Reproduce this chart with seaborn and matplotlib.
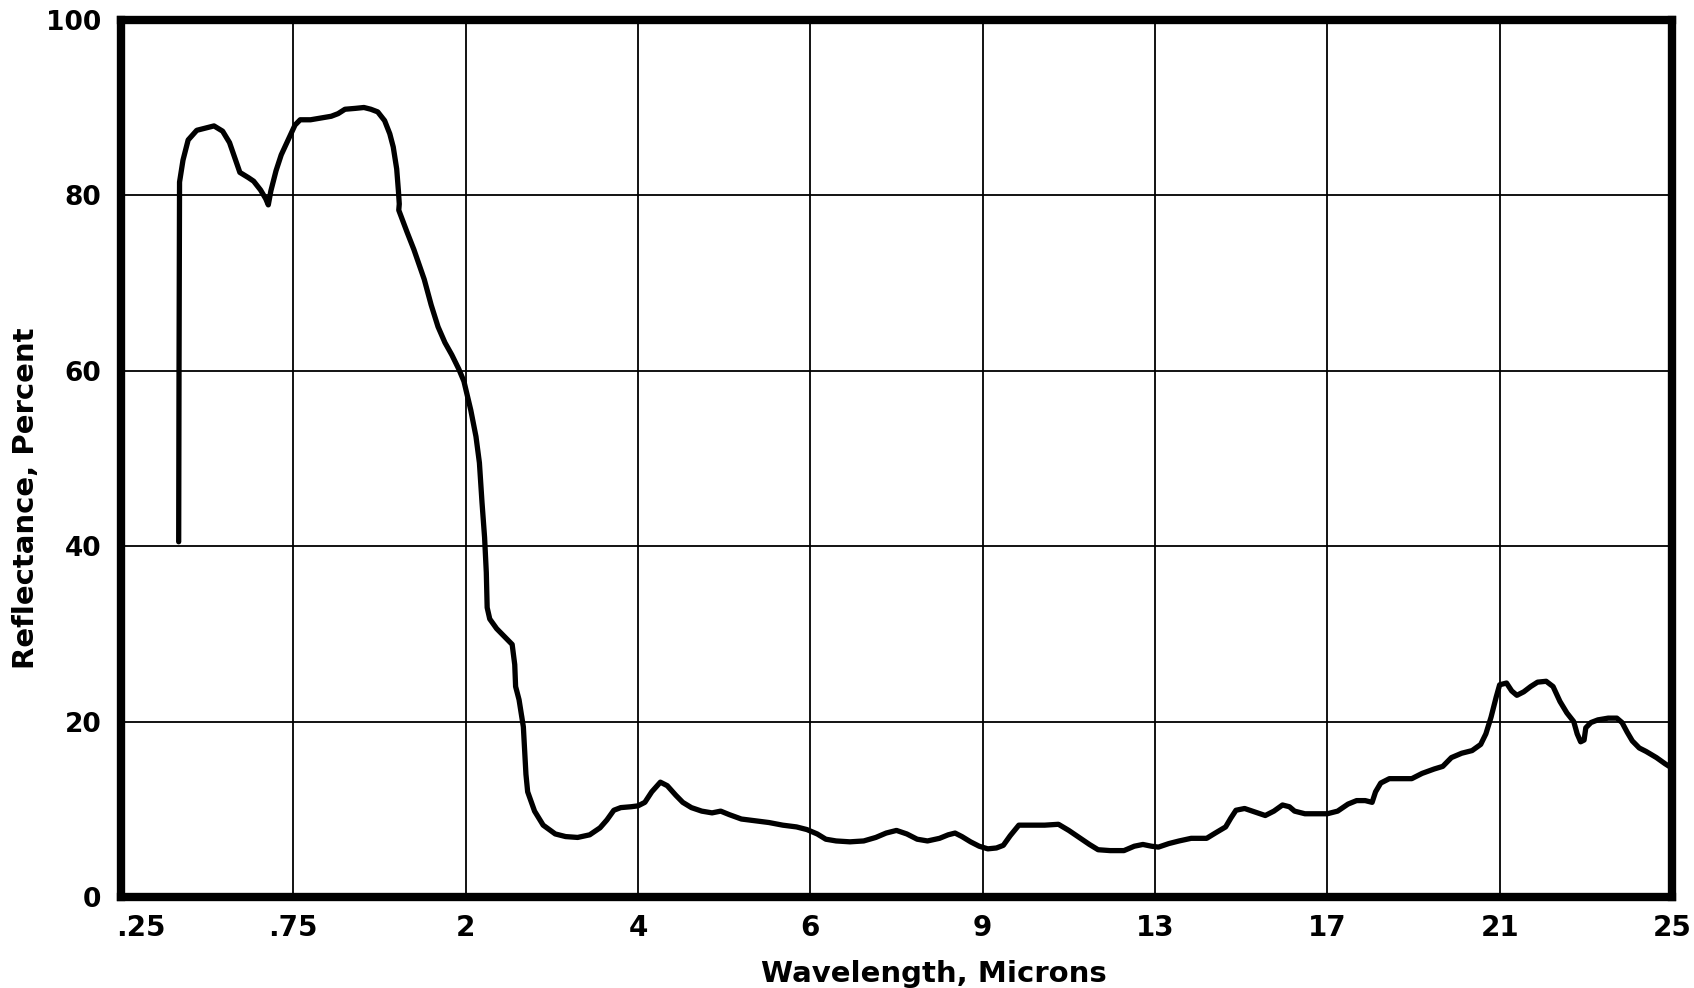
import numpy as np
import pandas as pd
import matplotlib
matplotlib.use("Agg")
import matplotlib.pyplot as plt
import matplotlib.transforms as mtransforms
import seaborn as sns

# Wavelength axis: the chart spaces these tick values evenly
tick_labels = [".25", ".75", "2", "4", "6", "9", "13", "17", "21", "25"]
y_ticks = [0, 20, 40, 60, 80, 100]

# Position of each trace point along the evenly spaced wavelength axis
# (0 = .25 micron, 9 = 25 microns)
scale_position = [
    0.335, 0.337, 0.340, 0.360, 0.390, 0.440, 0.500, 0.540, 0.590, 0.630,
    0.660, 0.690, 0.740, 0.770, 0.810, 0.840, 0.855, 0.870, 0.900, 0.930,
    0.970, 1.010, 1.040, 1.100, 1.160, 1.220, 1.260, 1.300, 1.360, 1.410,
    1.450, 1.490, 1.530, 1.560, 1.580, 1.600, 1.610, 1.615, 1.612, 1.660,
    1.700, 1.760, 1.800, 1.840, 1.880, 1.920, 1.960, 1.990, 2.030, 2.060,
    2.080, 2.095, 2.110, 2.120, 2.125, 2.140, 2.180, 2.230, 2.270, 2.285,
    2.290, 2.310, 2.335, 2.335, 2.350, 2.360, 2.400, 2.450, 2.520, 2.580,
    2.650, 2.720, 2.780, 2.820, 2.860, 2.900, 2.960, 3.000, 3.040, 3.080,
    3.130, 3.170, 3.220, 3.260, 3.310, 3.370, 3.430, 3.480, 3.530, 3.600,
    3.680, 3.760, 3.840, 3.920, 3.980, 4.040, 4.090, 4.150, 4.230, 4.310,
    4.380, 4.440, 4.500, 4.560, 4.620, 4.680, 4.750, 4.800, 4.840, 4.880,
    4.930, 4.980, 5.030, 5.080, 5.120, 5.160, 5.210, 5.280, 5.360, 5.440,
    5.500, 5.560, 5.620, 5.670, 5.740, 5.820, 5.880, 5.930, 5.980, 6.020,
    6.080, 6.140, 6.210, 6.300, 6.350, 6.410, 6.440, 6.470, 6.520, 6.580,
    6.640, 6.690, 6.740, 6.780, 6.810, 6.870, 6.940, 7.000, 7.060, 7.120,
    7.170, 7.220, 7.260, 7.280, 7.310, 7.360, 7.430, 7.490, 7.550, 7.620,
    7.670, 7.720, 7.780, 7.840, 7.890, 7.920, 7.950, 7.980, 8.000, 8.040,
    8.070, 8.100, 8.140, 8.180, 8.220, 8.270, 8.310, 8.350, 8.390, 8.430,
    8.450, 8.470, 8.490, 8.500, 8.530, 8.570, 8.630, 8.680, 8.710, 8.740,
    8.770, 8.810, 8.850, 8.910, 8.960, 9.000,
]

# Reflectance in percent at each trace point
reflectance = [
    40.5, 60.0, 81.5, 84.0, 86.3, 87.4, 87.7, 87.9, 87.3, 86.0,
    84.3, 82.6, 82.0, 81.6, 80.6, 79.6, 78.9, 80.5, 82.8, 84.6,
    86.3, 88.0, 88.6, 88.6, 88.8, 89.0, 89.3, 89.8, 89.9, 90.0,
    89.8, 89.5, 88.5, 87.0, 85.5, 83.0, 80.5, 79.0, 78.3, 75.8,
    73.8, 70.4, 67.5, 65.0, 63.2, 61.8, 60.2, 58.8, 55.5, 52.5,
    49.5, 45.0, 41.0, 37.0, 33.0, 31.7, 30.6, 29.6, 28.8, 26.5,
    24.0, 22.5, 20.8, 18.0, 14.0, 12.0, 9.8, 8.2, 7.2, 6.9,
    6.8, 7.1, 7.9, 8.8, 9.9, 10.2, 10.3, 10.4, 10.8, 12.0,
    13.1, 12.7, 11.6, 10.8, 10.2, 9.8, 9.6, 9.8, 9.4, 8.9,
    8.7, 8.5, 8.2, 8.0, 7.7, 7.2, 6.6, 6.4, 6.3, 6.4,
    6.8, 7.3, 7.6, 7.2, 6.6, 6.4, 6.7, 7.1, 7.3, 6.9,
    6.3, 5.8, 5.5, 5.6, 5.9, 7.0, 8.2, 8.2, 8.2, 8.3,
    7.6, 6.8, 6.0, 5.4, 5.3, 5.3, 5.8, 6.0, 5.8, 5.7,
    6.1, 6.4, 6.7, 6.7, 7.3, 8.0, 9.0, 9.9, 10.1, 9.7,
    9.3, 9.8, 10.5, 10.3, 9.8, 9.5, 9.5, 9.5, 9.8, 10.6,
    11.0, 11.0, 10.8, 12.0, 13.0, 13.5, 13.5, 13.5, 14.1, 14.6,
    14.9, 15.9, 16.4, 16.7, 17.4, 18.6, 20.5, 22.8, 24.2, 24.4,
    23.5, 23.0, 23.4, 24.0, 24.5, 24.6, 24.0, 22.3, 21.0, 20.0,
    18.6, 17.7, 17.9, 19.3, 19.9, 20.2, 20.4, 20.4, 19.9, 18.8,
    17.8, 17.0, 16.6, 15.9, 15.2, 14.7,
]

df = pd.DataFrame({"position": scale_position, "reflectance": reflectance})

sns.set_theme(style="white")
plt.rcParams["font.family"] = ["DejaVu Sans"]

fig = plt.figure(figsize=(16.94, 9.88), dpi=100)
ax = fig.add_axes([0.0714, 0.092, 0.9156, 0.888])

sns.lineplot(data=df, x="position", y="reflectance", sort=False,
             color="black", linewidth=3.8, ax=ax, zorder=3)

ax.set_xlim(0, len(tick_labels) - 1)
ax.set_ylim(0, 100)
ax.set_xticks(range(len(tick_labels)))
ax.set_xticklabels(tick_labels)
ax.set_yticks(y_ticks)
ax.set_yticklabels([str(v) for v in y_ticks])

ax.grid(True, color="black", linewidth=1.3)
ax.set_axisbelow(True)
for side in ax.spines.values():
    side.set_visible(True)
    side.set_color("black")
    side.set_linewidth(6)

ax.tick_params(axis="both", length=0, colors="black")
ax.tick_params(axis="x", pad=12, labelsize=20)
ax.tick_params(axis="y", pad=14, labelsize=19)
for lab in ax.get_xticklabels() + ax.get_yticklabels():
    lab.set_fontweight("bold")

# nudge the first wavelength label so it sits just inside the frame corner
first = ax.get_xticklabels()[0]
first.set_transform(first.get_transform() +
                    mtransforms.ScaledTranslation(0.2, 0, fig.dpi_scale_trans))

ax.set_xlabel("Wavelength, Microns", fontsize=21, fontweight="bold",
              color="black")
ax.set_ylabel("Reflectance, Percent", fontsize=21, fontweight="bold",
              color="black")
ax.xaxis.set_label_coords(0.524, -0.072)
ax.yaxis.set_label_coords(-0.052, 0.455)

fig.savefig("out.png", dpi=100, facecolor="white")
